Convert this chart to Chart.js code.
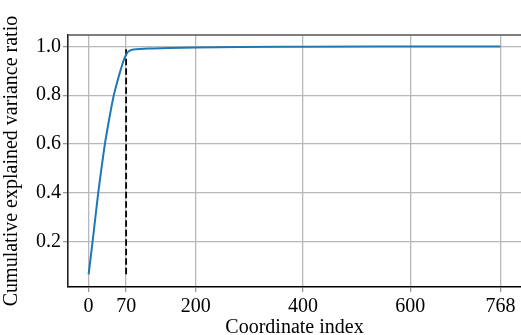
<!DOCTYPE html>
<html>
<head>
<meta charset="utf-8">
<script src="https://cdn.jsdelivr.net/npm/chart.js@4/dist/chart.umd.min.js"></script>
<style>
html,body{margin:0;padding:0;background:#fff;overflow:hidden;}
canvas{display:block;}
</style>
</head>
<body>
<canvas id="c" width="521" height="335"></canvas>
<script>
// Data
const coordIndex = [0,2,4,6,8,10,12,14,16,18,21,24,27,30,34,38,42,47,52,57,62,66,70,73,76,80,85,95,120,150,200,280,400,550,768];
const cumRatio   = [0.065,0.10,0.137,0.173,0.21,0.248,0.286,0.324,0.362,0.40,0.45,0.50,0.547,0.594,0.647,0.697,0.745,0.80,0.843,0.883,0.92,0.947,0.966,0.977,0.982,0.986,0.988,0.990,0.992,0.994,0.996,0.998,0.999,0.9997,1.0];
const cutoffIndex = 70;
const cutoffRange = [0.065, 1.0];
const xTickValues = [0,70,200,400,600,768];
const yTickValues = [0.2,0.4,0.6,0.8,1.0];
const xLabel = 'Coordinate index';
const yLabel = 'Cumulative explained variance ratio';

const FONT = 'Liberation Serif';
const curve = coordIndex.map((x,i)=>({x:x, y:cumRatio[i]}));
const cutoff = cutoffRange.map(y=>({x:cutoffIndex, y:y}));

const spinePlugin = {
  id:'spines',
  afterDraw(chart){
    const {ctx, chartArea:a} = chart;
    ctx.save();
    ctx.strokeStyle = '#555';
    ctx.lineWidth = 1.6;
    ctx.beginPath();
    ctx.moveTo(a.left, a.top);
    ctx.lineTo(a.right, a.top);
    ctx.stroke();
    ctx.restore();
  }
};

new Chart(document.getElementById('c'), {
  type:'line',
  data:{
    datasets:[
      {data:curve, borderColor:'#1f77b4', borderWidth:2, pointRadius:0, cubicInterpolationMode:'monotone', fill:false},
      {data:cutoff, borderColor:'#000', borderWidth:1.8, borderDash:[6.5,3], pointRadius:0, fill:false}
    ]
  },
  options:{
    responsive:false,
    animation:false,
    devicePixelRatio:1,
    layout:{padding:{top:35,right:0,left:0,bottom:0}},
    plugins:{legend:{display:false}, tooltip:{enabled:false}},
    scales:{
      x:{
        type:'linear', min:-38.4, max:806.4,
        afterBuildTicks(s){ s.ticks = xTickValues.map(v=>({value:v})); },
        afterFit(s){ s.height = 48; s.paddingLeft = 0; s.paddingRight = 0; },
        ticks:{color:'#000', font:{family:FONT, size:20}, padding:3, maxRotation:0, autoSkip:false, callback:v=>String(v)},
        grid:{color:'#b8b8b8', lineWidth:1.3, tickColor:'#999', tickLength:5},
        border:{color:'#000', width:1.6},
        title:{display:true, text:xLabel, color:'#000', font:{family:FONT, size:20}, padding:{top:0,bottom:-5}}
      },
      y:{
        type:'linear', min:0.013, max:1.047,
        afterBuildTicks(s){ s.ticks = yTickValues.map(v=>({value:v})); },
        afterFit(s){ s.width = 68; },
        ticks:{color:'#000', font:{family:FONT, size:20}, padding:2, callback:v=>v.toFixed(1)},
        grid:{color:'#b8b8b8', lineWidth:1.3, tickColor:'#999', tickLength:5},
        border:{color:'#222', width:1.6},
        title:{display:true, text:yLabel, color:'#000', font:{family:FONT, size:20}, padding:{top:0,bottom:0}}
      }
    }
  },
  plugins:[spinePlugin]
});
</script>
</body>
</html>
